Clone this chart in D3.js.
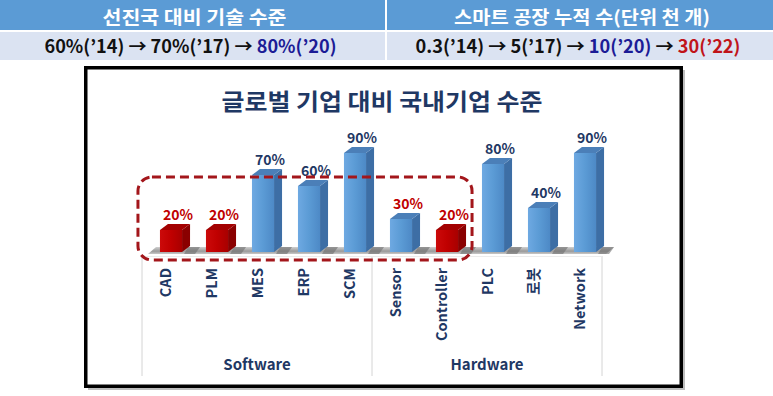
<!DOCTYPE html>
<html>
  <head>
    <meta charset="utf-8" />
    <title>글로벌 기업 대비 국내기업 수준</title>
    <script src="https://d3js.org/d3.v7.min.js"></script>
    <style>
      body {
        margin: 0;
        background: #ffffff;
      }
      svg text {
        font-family: "Noto Sans CJK KR", "Noto Sans", sans-serif;
        font-weight: bold;
      }
    </style>
  </head>
  <body>
    <div id="chart"></div>

    <script>
      // data
      const categories = ["CAD", "PLM", "MES", "ERP", "SCM", "Sensor", "Controller", "PLC", "로봇", "Network"];
      const values = [20, 20, 70, 60, 90, 30, 20, 80, 40, 90];
      const groups = ["Software", "Software", "Software", "Software", "Software", "Hardware", "Hardware", "Hardware", "Hardware", "Hardware"];
      const groupNames = ["Software", "Hardware"];
      const redBars = ["CAD", "PLM", "Controller"]; // drawn in red
      const boxed = ["CAD", "PLM", "MES", "ERP", "SCM", "Sensor", "Controller"]; // inside dashed box
      const redLabels = ["CAD", "PLM", "Sensor", "Controller"];

      // header table
      const headerTitles = ["선진국 대비 기술 수준", "스마트 공장 누적 수(단위 천 개)"];
      const row1 = [
        { t: "60%(’14) → 70%(’17) → ", c: "#111111" },
        { t: "80%(’20)", c: "#1c1c96" },
      ];
      const row2 = [
        { t: "0.3(’14) → 5(’17) → ", c: "#111111" },
        { t: "10(’20)", c: "#1c1c96" },
        { t: " → ", c: "#111111" },
        { t: "30(’22)", c: "#c0141a" },
      ];
      const chartTitle = "글로벌 기업 대비 국내기업 수준";

      const W = 773, H = 396;
      const svg = d3.select("#chart").append("svg").attr("width", W).attr("height", H);

      const navy = "#1f3864";
      const red = "#c00000";

      // ---------- header table ----------
      const cols = [
        { x: 0, w: 385, tw: 184, rw: 292, rows: row1 },
        { x: 387, w: 386, tw: 256, rw: 325, rows: row2 },
      ];
      cols.forEach((c, i) => {
        svg.append("rect").attr("x", c.x).attr("y", 0).attr("width", c.w).attr("height", 30).attr("fill", "#5b9bd5");
        svg.append("rect").attr("x", c.x).attr("y", 32).attr("width", c.w).attr("height", 28).attr("fill", "#dbe3f2");
        const cx = c.x + c.w / 2 + 2;
        svg.append("text")
          .attr("x", cx).attr("y", 24)
          .attr("text-anchor", "middle")
          .attr("fill", "#ffffff")
          .style("font-size", "18px")
          .attr("textLength", c.tw).attr("lengthAdjust", "spacingAndGlyphs")
          .text(headerTitles[i]);
        const t = svg.append("text")
          .attr("x", cx - 4).attr("y", 53)
          .attr("text-anchor", "middle")
          .style("font-size", "18px")
          .attr("textLength", c.rw).attr("lengthAdjust", "spacingAndGlyphs");
        t.selectAll("tspan").data(c.rows).join("tspan").attr("fill", (d) => d.c).text((d) => d.t);
      });

      // ---------- chart frame ----------
      svg.append("rect").attr("x", 88).attr("y", 70).attr("width", 597).attr("height", 320).attr("fill", "#bdbdbd");
      svg.append("rect")
        .attr("x", 85.75).attr("y", 67.75).attr("width", 595.5).attr("height", 318.5)
        .attr("fill", "#ffffff").attr("stroke", "#000000").attr("stroke-width", 3.5);

      svg.append("text")
        .attr("x", 382).attr("y", 110)
        .attr("text-anchor", "middle")
        .attr("fill", navy)
        .style("font-size", "23px")
        .attr("textLength", 321).attr("lengthAdjust", "spacingAndGlyphs")
        .text(chartTitle);

      // ---------- scales ----------
      const base = 252;
      const x = d3.scaleBand().domain(categories).range([142, 602]).paddingInner(0.52).paddingOuter(0.26);
      const y = d3.scaleLinear().domain([0, 100]).range([base, 142]);
      const bw = x.bandwidth();
      const dx = 8, dy = 6, shift = 6; // 3D depth and projection shift
      const bx = (c) => x(c) + shift;

      const defs = svg.append("defs");
      function grad(id, stops) {
        const g = defs.append("linearGradient").attr("id", id).attr("x1", 0).attr("x2", 1).attr("y1", 0).attr("y2", 0);
        stops.forEach((s, i) => g.append("stop").attr("offset", i / (stops.length - 1)).attr("stop-color", s));
      }
      grad("blueFront", ["#6ea9e2", "#5b9bd5", "#4d89c6"]);
      grad("redFront", ["#cc0a0a", "#c00000", "#a80000"]);
      const floorG = defs.append("linearGradient").attr("id", "floor").attr("x1", 0).attr("x2", 0).attr("y1", 0).attr("y2", 1);
      floorG.append("stop").attr("offset", 0).attr("stop-color", "#d0d0d0");
      floorG.append("stop").attr("offset", 0.6).attr("stop-color", "#9a9a9a");
      floorG.append("stop").attr("offset", 1).attr("stop-color", "#c8c8c8");

      // ---------- floor ----------
      const fl = x.range()[0] + 6, fr = x.range()[1] + 4;
      svg.append("path")
        .attr("d", `M${fl},${base + 2} L${fr},${base + 2} L${fr + dx},${base - dy + 1} L${fl + dx},${base - dy + 1} Z`)
        .attr("fill", "url(#floor)");
      // darker shadow patches on the floor between bars
      svg.selectAll(".shade").data(categories).join("path")
        .attr("class", "shade")
        .attr("d", (c) => {
          const sx = bx(c) + bw + dx;
          return `M${sx - 2},${base - dy + 1} L${sx + 10},${base - dy + 1} L${sx + 5},${base + 2} L${sx - 6},${base + 2} Z`;
        })
        .attr("fill", "#6e6e6e").attr("opacity", 0.6);

      // ---------- category axis ----------
      const axisColor = "#d4d4d4";
      const split = (x("SCM") + x("Sensor") + bw) / 2;
      [x.range()[0], split, x.range()[1]].forEach((px) => {
        svg.append("line").attr("x1", px).attr("x2", px).attr("y1", 256).attr("y2", 376)
          .attr("stroke", axisColor).attr("stroke-width", 1);
      });
      svg.append("line").attr("x1", x.range()[0]).attr("x2", x.range()[1]).attr("y1", 256.5).attr("y2", 256.5)
        .attr("stroke", "#ececec").attr("stroke-width", 1);

      svg.selectAll(".cat").data(categories).join("text")
        .attr("class", "cat")
        .attr("transform", (c) => `translate(${x(c) + bw / 2 + 5.5},268) rotate(-90)`)
        .attr("text-anchor", "end")
        .attr("fill", navy)
        .style("font-size", "14.5px")
        .text((c) => c);

      groupNames.forEach((g, gi) => {
        const left = gi === 0 ? x.range()[0] : split;
        const right = gi === 0 ? split : x.range()[1];
        svg.append("text")
          .attr("x", (left + right) / 2).attr("y", 370)
          .attr("text-anchor", "middle")
          .attr("fill", navy)
          .style("font-size", "15px")
          .text(g);
      });

      // ---------- bars ----------
      const data = categories.map((c, i) => ({ c, v: values[i], g: groups[i] }));
      const bars = svg.selectAll(".bar").data(data).join("g").attr("class", "bar");
      const isRed = (d) => redBars.includes(d.c);
      bars.append("path")
        .attr("d", (d) => {
          const x0 = bx(d.c) + bw, yt = y(d.v);
          return `M${x0},${yt} L${x0 + dx},${yt - dy} L${x0 + dx},${base - dy} L${x0},${base} Z`;
        })
        .attr("fill", (d) => (isRed(d) ? "#8a0000" : "#3d6ea5"));
      bars.append("path")
        .attr("d", (d) => {
          const x0 = bx(d.c), yt = y(d.v);
          return `M${x0},${yt} L${x0 + dx},${yt - dy} L${x0 + bw + dx},${yt - dy} L${x0 + bw},${yt} Z`;
        })
        .attr("fill", (d) => (isRed(d) ? "#a30000" : "#4b7fb8"));
      bars.append("rect")
        .attr("x", (d) => bx(d.c))
        .attr("y", (d) => y(d.v))
        .attr("width", bw)
        .attr("height", (d) => base - y(d.v))
        .attr("fill", (d) => (isRed(d) ? "url(#redFront)" : "url(#blueFront)"));

      bars.append("text")
        .attr("x", (d) => bx(d.c) + (bw + dx) / 2 + 3)
        .attr("y", (d) => y(d.v) - dy - 4)
        .attr("text-anchor", "middle")
        .attr("fill", (d) => (redLabels.includes(d.c) ? red : navy))
        .style("font-size", "14px")
        .text((d) => d.v + "%");

      // ---------- dashed highlight box ----------
      const first = boxed[0], last = boxed[boxed.length - 1];
      const boxTop = y(d3.max(redLabels.map((c) => values[categories.indexOf(c)]))) - 42;
      svg.append("rect")
        .attr("x", x(first) - 16)
        .attr("y", boxTop)
        .attr("width", x(last) + bw + 20 - (x(first) - 16))
        .attr("height", base + 8 - boxTop)
        .attr("rx", 14).attr("ry", 14)
        .attr("fill", "none")
        .attr("stroke", "#a3161b")
        .attr("stroke-width", 3)
        .attr("stroke-dasharray", "9,5");
    </script>
  </body>
</html>
